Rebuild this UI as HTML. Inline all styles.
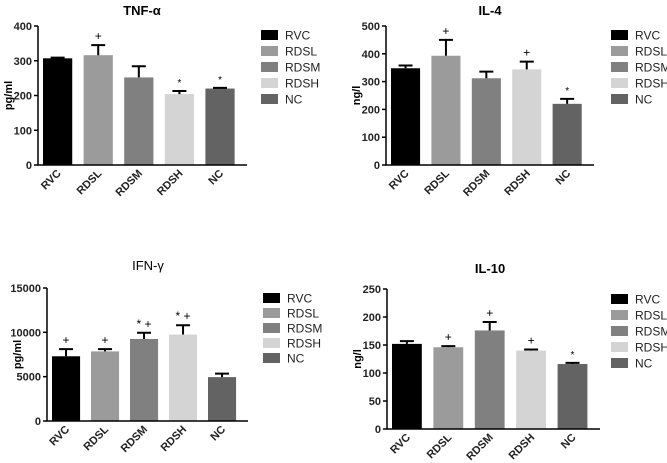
<!DOCTYPE html>
<html><head><meta charset="utf-8"><style>
body{margin:0;background:#fff;width:667px;height:463px;overflow:hidden}
svg{position:absolute;left:0;top:0}
text{font-family:"Liberation Sans",sans-serif}
</style></head><body>
<svg id="s" width="667" height="463"></svg>
<script>
const categories=["RVC","RDSL","RDSM","RDSH","NC"];
const colors=["#000","#9b9b9b","#808080","#d4d4d4","#636363"];
const tnfValues=[307,316,252,204,220];
const tnfErrors=[309,345,284,213,222];
const tnfMarks=["","+","","*","*"];
const il4Values=[348,393,312,344,220];
const il4Errors=[358,450,336,372,238];
const il4Marks=["","+","","+","*"];
const ifnValues=[7300,7850,9250,9750,4950];
const ifnErrors=[8100,8100,9950,10800,5350];
const ifnMarks=["+","+","* +","* +",""];
const il10Values=[152,146,176,140,116];
const il10Errors=[157,148,191,142,118];
const il10Marks=["","+","+","+","*"];
const tnfTicks=[0,100,200,300,400];
const il4Ticks=[0,100,200,300,400,500];
const ifnTicks=[0,5000,10000,15000];
const il10Ticks=[0,50,100,150,200,250];
const S=document.getElementById('s');
function mk(t,a,txt){const e=document.createElementNS('http://www.w3.org/2000/svg',t);for(const k in a)e.setAttribute(k,a[k]);if(txt!==undefined)e.textContent=txt;S.appendChild(e);return e;}
function panel(p){
 const y=v=>p.y0-(v/p.max)*(p.y0-p.yTop);
 const step=(p.xEnd-p.ax-6)/5;
 let t=mk('text',{x:p.tx,y:p.ty,'text-anchor':'middle','font-size':13,'font-weight':p.boldTitle?'bold':'normal'},p.title);
 
 
 let yt=mk('text',{x:0,y:0,'font-size':11,'font-weight':'bold','text-anchor':'middle',transform:`translate(${p.ax-26},${(p.y0+p.yTop)/2}) rotate(-90)`},p.unit);
 
 
 p.values.forEach((v,i)=>{
  const x0=p.ax+5+i*step,w=step*0.72,cx=x0+w/2;
  let r=mk('rect',{x:x0,y:y(v),width:w,height:p.y0-y(v),fill:colors[i]});
  
  
  const ye=y(p.errors[i]);
  let e=mk('path',{d:`M${cx},${y(v)}V${ye}M${cx-7},${ye}H${cx+7}`,stroke:'#000','stroke-width':2,fill:'none'});
  
  
  if(p.marks[i]){let m=mk('text',{x:cx,y:ye-5,'text-anchor':'middle','font-size':p.marks[i].includes('*')&&p.marks[i].length==1?10:12},p.marks[i]);
   
   }
  let l=mk('text',{x:0,y:0,'font-size':11,'font-weight':'bold','text-anchor':'end',fill:'#222',transform:`translate(${cx+4},${p.y0+9}) rotate(-45)`},categories[i]);
  
  
  let sw=mk('rect',{x:p.lx,y:p.ly+i*p.lstep-5,width:17,height:10,fill:colors[i]});
  
  
  let lt=mk('text',{x:p.lx+24,y:p.ly+i*p.lstep+4.5,'font-size':12,fill:'#222'},categories[i]);
  
  
 });
 let ax=mk('path',{d:`M${p.ax},${p.yTop}V${p.y0}H${p.xEnd}`,stroke:'#000','stroke-width':1.5,fill:'none'});
 
 
 p.ticks.forEach(v=>{
  mk('path',{d:`M${p.ax-4},${y(v)}H${p.ax}`,stroke:'#000','stroke-width':1.5});
  let tl=mk('text',{x:p.ax-6,y:y(v)+4,'text-anchor':'end','font-size':11,'font-weight':'bold','fill':'#222'},v);
  
  
 });
}
panel({id:'tnf',title:'TNF-α',boldTitle:true,unit:'pg/ml',tx:142,ty:15,ax:38,y0:165,yTop:26,max:400,xEnd:247,values:tnfValues,errors:tnfErrors,marks:tnfMarks,ticks:tnfTicks,lx:261,ly:35,lstep:16});
panel({id:'il4',title:'IL-4',boldTitle:true,unit:'ng/l',tx:490,ty:15,ax:386,y0:165,yTop:26,max:500,xEnd:594,values:il4Values,errors:il4Errors,marks:il4Marks,ticks:il4Ticks,lx:611,ly:35,lstep:16});
panel({id:'ifn',title:'IFN-γ',boldTitle:false,unit:'pg/ml',tx:148,ty:270,ax:47,y0:421,yTop:288,max:15000,xEnd:248,values:ifnValues,errors:ifnErrors,marks:ifnMarks,ticks:ifnTicks,lx:263,ly:298,lstep:15});
panel({id:'il10',title:'IL-10',boldTitle:true,unit:'ng/l',tx:490,ty:273,ax:387,y0:429,yTop:289,max:250,xEnd:600,values:il10Values,errors:il10Errors,marks:il10Marks,ticks:il10Ticks,lx:611,ly:299,lstep:16});
</script>
</body></html>
